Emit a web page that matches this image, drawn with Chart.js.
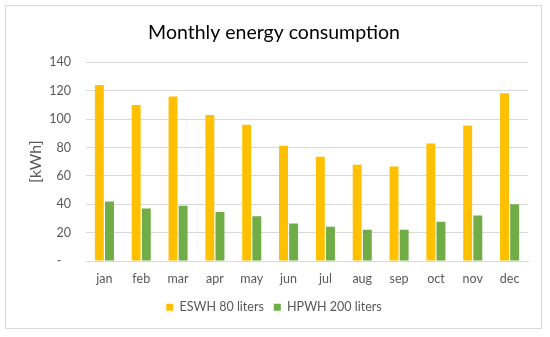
<!DOCTYPE html>
<html>
<head>
<meta charset="utf-8">
<script src="https://cdn.jsdelivr.net/npm/chart.js@4/dist/chart.umd.min.js"></script>
<style>
  html, body { margin: 0; padding: 0; background: #ffffff; }
  #wrap { width: 550px; height: 337px; position: relative; }
</style>
</head>
<body>
<div id="wrap"><canvas id="c" width="550" height="337"></canvas></div>
<script>
const months = ['jan','feb','mar','apr','may','jun','jul','aug','sep','oct','nov','dec'];
const eswh80 = [124, 110, 116, 103, 96, 81.3, 73.5, 67.9, 66.7, 82.9, 95.5, 118.2];
const hpwh200 = [42, 37, 39, 34.6, 31.6, 26.5, 24.1, 22, 22, 27.6, 32.1, 40];
const seriesNames = ['ESWH 80 liters', 'HPWH 200 liters'];
const chartTitle = 'Monthly energy consumption';
const yTitle = '[kWh]';

const FONT = 'Lato, "Liberation Sans", sans-serif';
const TXT = '#595959';

const borderPlugin = {
  id: 'outerBorder',
  beforeDraw(chart) {
    const ctx = chart.ctx;
    ctx.save();
    ctx.fillStyle = '#ffffff';
    ctx.fillRect(0, 0, chart.width, chart.height);
    ctx.strokeStyle = '#d9d9d9';
    ctx.lineWidth = 1;
    ctx.strokeRect(5.5, 5.5, 536, 323);
    ctx.restore();
  }
};

new Chart(document.getElementById('c'), {
  type: 'bar',
  data: {
    labels: months,
    datasets: [
      { label: seriesNames[0], data: eswh80, backgroundColor: '#FFC000' },
      { label: seriesNames[1], data: hpwh200, backgroundColor: '#70AD47' }
    ]
  },
  options: {
    responsive: false,
    animation: false,
    devicePixelRatio: 1,
    categoryPercentage: 0.55,
    barPercentage: 0.88,
    layout: { padding: { left: 20, right: 22, top: 13, bottom: 13.5 } },
    plugins: {
      title: {
        display: true,
        text: chartTitle,
        color: '#000000',
        font: { family: FONT, size: 19.5, weight: 'normal' },
        padding: { top: 8, bottom: 18 }
      },
      legend: {
        position: 'bottom',
        labels: {
          color: TXT,
          font: { family: FONT, size: 12.5 },
          boxWidth: 7,
          boxHeight: 7,
          padding: 10
        }
      },
      tooltip: { enabled: false }
    },
    scales: {
      x: {
        afterFit(scale) { scale.height = 30; },
        grid: { display: false, drawTicks: false },
        border: { color: '#d9d9d9' },
        ticks: { color: TXT, font: { family: FONT, size: 12.5 }, padding: 10 }
      },
      y: {
        min: 0, max: 140,
        afterFit(scale) { scale.width = 66; },
        grid: { color: '#d9d9d9', drawTicks: false },
        border: { display: false },
        ticks: {
          stepSize: 20,
          color: TXT,
          padding: 15,
          font: { family: FONT, size: 12.5 },
          callback: v => v === 0 ? '-   ' : v
        },
        title: {
          display: true,
          text: yTitle,
          color: TXT,
          font: { family: FONT, size: 16 },
          padding: { top: 6, bottom: 0 }
        }
      }
    }
  },
  plugins: [borderPlugin]
});
</script>
</body>
</html>
